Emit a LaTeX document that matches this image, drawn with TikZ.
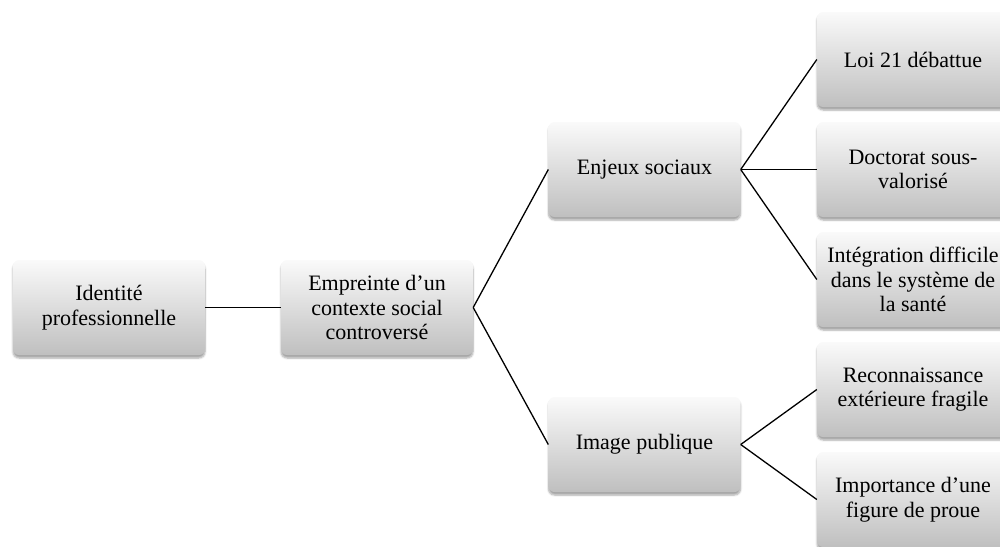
\documentclass[tikz,border=0pt]{standalone}
\usepackage{fontspec}
\setmainfont{Liberation Serif}
\usetikzlibrary{shadows.blur}
\begin{document}
\begin{tikzpicture}[x=1pt,y=-1pt,
  box/.style={rounded corners=6pt, minimum width=192pt, minimum height=95pt,
    inner sep=2pt, align=center, top color=black!2, bottom color=black!25,
    blur shadow={shadow xshift=0pt, shadow yshift=-3pt, shadow blur steps=6, shadow opacity=35},
    font=\fontsize{22}{24.5}\selectfont},
  link/.style={line width=1.3pt, black}]
\useasboundingbox (0,0) rectangle (1000,546);
\node[box] (id) at (109,307.5) {Identité\\professionnelle};
\node[box] (emp) at (377,307.5) {Empreinte d’un\\contexte social\\controversé};
\node[box] (enj) at (644.5,169.5) {Enjeux sociaux};
\node[box] (img) at (644.5,444.5) {Image publique};
\node[box] (loi) at (913,59.5) {Loi 21 débattue};
\node[box] (doc) at (913,169.5) {Doctorat sous-\\valorisé};
\node[box] (int) at (913,279.5) {Intégration difficile\\dans le système de\\la santé};
\node[box] (rec) at (913,389.5) {Reconnaissance\\extérieure fragile};
\node[box] (imp) at (913,499.5) {Importance d’une\\figure de proue};
\draw[link] (id.east) -- (emp.west);
\draw[link] (emp.east) -- (enj.west);
\draw[link] (emp.east) -- (img.west);
\draw[link] (enj.east) -- (loi.west);
\draw[link] (enj.east) -- (doc.west);
\draw[link] (enj.east) -- (int.west);
\draw[link] (img.east) -- (rec.west);
\draw[link] (img.east) -- (imp.west);
\end{tikzpicture}
\end{document}
